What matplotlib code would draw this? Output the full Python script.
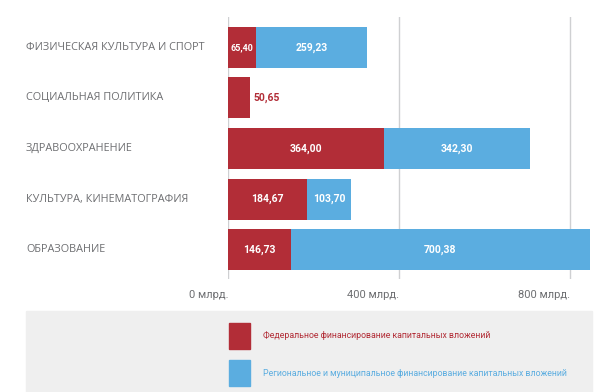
import matplotlib.pyplot as plt
import matplotlib.transforms as mtransforms
from matplotlib.patches import Rectangle

categories = [
    "ФИЗИЧЕСКАЯ КУЛЬТУРА И СПОРТ",
    "СОЦИАЛЬНАЯ ПОЛИТИКА",
    "ЗДРАВООХРАНЕНИЕ",
    "КУЛЬТУРА, КИНЕМАТОГРАФИЯ",
    "ОБРАЗОВАНИЕ",
]
federal = [65.40, 50.65, 364.00, 184.67, 146.73]
regional = [259.23, 0.0, 342.30, 103.70, 700.38]
ticks = [0, 400, 800]
tick_labels = ["0 млрд.", "400 млрд.", "800 млрд."]
series_names = [
    "Федеральное финансирование капитальных вложений",
    "Региональное и муниципальное финансирование капитальных вложений",
]

RED = "#b22d37"
BLUE = "#5badE0"
GREY = "#6d6e71"

plt.rcParams["font.family"] = ["Roboto", "DejaVu Sans"]


def fmt(v):
    return f"{v:.2f}".replace(".", ",")


fig = plt.figure(figsize=(6.13, 3.92), dpi=100)
ax = fig.add_axes([0.372, 0.2883, 0.5928, 0.6683])

y = list(range(len(categories)))
h = 0.81
ax.barh(y, federal, height=h, color=RED, zorder=2)
ax.barh(y, regional, left=federal, height=h, color=BLUE, zorder=2)

for i in y:
    if regional[i] > 0:
        fs = 6.5 if federal[i] < 80 else 7.5
        ax.text(federal[i] / 2, i, fmt(federal[i]), ha="center", va="center",
                color="white", fontsize=fs, fontweight="bold", zorder=3)
        ax.text(federal[i] + regional[i] / 2, i, fmt(regional[i]), ha="center", va="center",
                color="white", fontsize=7.5, fontweight="bold", zorder=3)
    else:
        ax.text(federal[i] + 10, i, fmt(federal[i]), ha="left", va="center",
                color=RED, fontsize=7.5, fontweight="bold", zorder=3)

ax.set_xlim(0, 850)
ax.set_ylim(4.58, -0.6)
ax.set_xticks(ticks)
ax.set_xticklabels(tick_labels, color=GREY, fontsize=8)
for lbl in ax.get_xticklabels():
    lbl.set_ha("right")
ax.tick_params(axis="x", length=0, pad=8)
ax.set_yticks([])
ax.xaxis.grid(True, color="#cfd0d2", linewidth=1, zorder=0)
for s in ax.spines.values():
    s.set_visible(False)

# category names: Open Sans (Roboto kerns "ОБ" badly)
trans = mtransforms.blended_transform_factory(fig.transFigure, ax.transData)
for i, c in enumerate(categories):
    ax.text(26 / 613, i, c, transform=trans, ha="left", va="center",
            color=GREY, fontsize=7.8, family=["Open Sans", "DejaVu Sans"])

# legend block
fig.patches.append(Rectangle((26 / 613, 0), 566 / 613, 81 / 392,
                             transform=fig.transFigure, color="#efefef", zorder=0))
for k, (name, col) in enumerate(zip(series_names, [RED, BLUE])):
    top = 323 + k * 37
    fig.patches.append(Rectangle((229 / 613, 1 - (top + 26) / 392), 21 / 613, 26 / 392,
                                 transform=fig.transFigure, color=col, zorder=1))
    fig.text(263 / 613, 1 - (top + 13) / 392, name, color=col, fontsize=6.3,
             ha="left", va="center")

fig.savefig("out.png", dpi=100)
